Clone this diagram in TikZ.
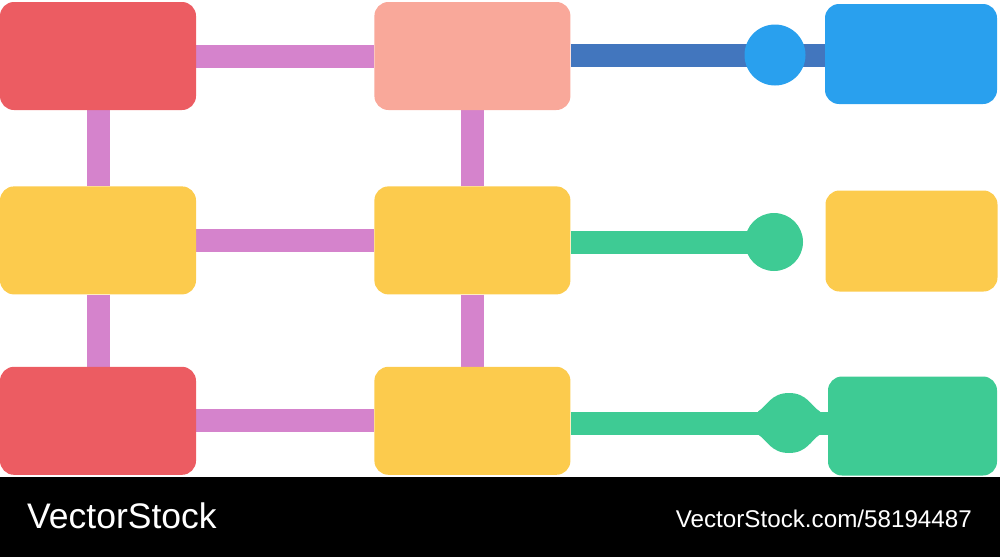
\documentclass[tikz,border=0pt]{standalone}
\usepackage{fontspec}
\newfontfamily\stockfont{Liberation Sans}
\usetikzlibrary{positioning,backgrounds}
\definecolor{boxred}{HTML}{EC5C62}
\definecolor{boxsalmon}{HTML}{F9A89A}
\definecolor{boxyellow}{HTML}{FCCB4D}
\definecolor{boxblue}{HTML}{29A0EE}
\definecolor{boxgreen}{HTML}{3ECB94}
\definecolor{lineblue}{HTML}{4276BE}
\definecolor{linepink}{HTML}{D583CC}

\begin{document}
\begin{tikzpicture}[x=1pt,y=-1pt,inner sep=0pt,
  box/.style={rectangle,rounded corners=14pt,minimum width=196pt,minimum height=108pt},
  endbox/.style={rectangle,rounded corners=14pt,minimum width=172pt,minimum height=100pt},
  link/.style={line width=23pt},
  knob/.style={circle,minimum size=60pt}]
  \useasboundingbox (0,0) rectangle (1000,557);
  \node[box,fill=boxred] (redA) at (98,56) {};
  \node[box,fill=boxsalmon] (salmon) [right=178pt of redA] {};
  \node[box,fill=boxyellow] (yellowA) [below=76pt of redA] {};
  \node[box,fill=boxyellow] (yellowB) [right=178pt of yellowA] {};
  \node[box,fill=boxred] (redB) [below=72pt of yellowA] {};
  \node[box,fill=boxyellow] (yellowC) [right=178pt of redB] {};
  \node[endbox,fill=boxblue] (blue) at (911,54) {};
  \node[endbox,fill=boxyellow,minimum height=101pt] (yellowD) at (911.5,241) {};
  \node[endbox,fill=boxgreen,minimum width=169pt,minimum height=99pt] (green) at (912.5,426) {};
  \node[knob,fill=boxblue,minimum size=61pt] (bead) at (775,55) {};
  \node[knob,fill=boxgreen,minimum size=58pt] (dot) at (774,242) {};
  \coordinate (blob) at (789,423);
  \fill[boxgreen,shift={(blob)}] (-31,-11.5) .. controls (-22,-17) and (-18,-30) .. (0,-30)
    .. controls (18,-30) and (22,-17) .. (31,-11.5) -- (31,11.5)
    .. controls (22,17) and (18,30) .. (0,30)
    .. controls (-18,30) and (-22,17) .. (-31,11.5) -- cycle;
  \begin{scope}[on background layer]
    \draw[link,draw=linepink] (redA) -- (salmon);
    \draw[link,draw=linepink] (yellowA) -- (yellowB);
    \draw[link,draw=linepink] (redB) -- (yellowC);
    \draw[link,draw=linepink] (redA) -- (yellowA);
    \draw[link,draw=linepink] (yellowA) -- (redB);
    \draw[link,draw=linepink] (salmon) -- (yellowB);
    \draw[link,draw=linepink] (yellowB) -- (yellowC);
    \draw[link,draw=lineblue] (salmon.east |- bead) -- (bead -| blue.west);
    \draw[link,draw=boxgreen] (yellowB.east |- dot) -- (dot.center);
    \draw[link,draw=boxgreen] (yellowC.east |- blob) -- (blob -| green.west);
  \end{scope}
  \node[fill=black,minimum width=1000pt,minimum height=80pt,anchor=north west] (footer) at (0,477) {};
  \node[anchor=base west,text=white,font=\stockfont\fontsize{35.5}{36}\selectfont] (brand) at (27,528) {VectorStock};
  \node[anchor=base east,text=white,font=\stockfont\fontsize{24.2}{25}\selectfont] (stockid) at (972,527) {VectorStock.com/58194487};
\end{tikzpicture}
\end{document}
